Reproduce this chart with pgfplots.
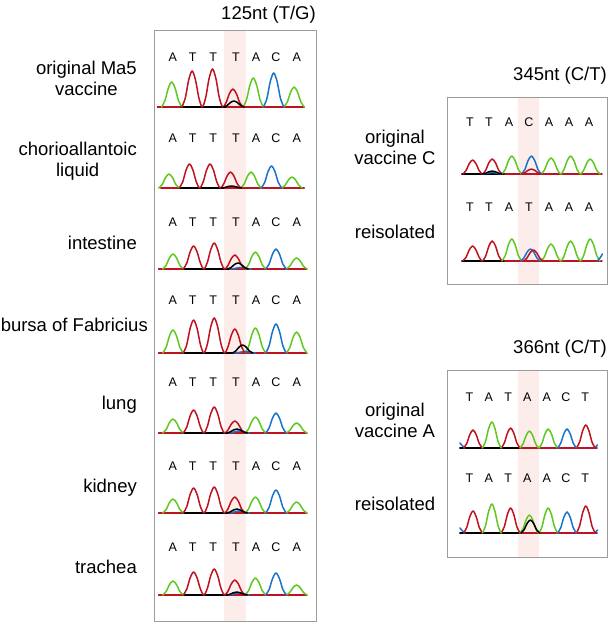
\documentclass[border=0pt]{standalone}
\usepackage{fontspec}
\setmainfont{Liberation Sans}
\usepackage{pgfplots}
\pgfplotsset{compat=1.18}
\definecolor{cA}{RGB}{95,200,30}
\definecolor{cT}{RGB}{190,18,32}
\definecolor{cC}{RGB}{25,115,200}
\definecolor{cG}{RGB}{0,0,0}
\definecolor{band}{RGB}{252,237,235}
\definecolor{boxc}{RGB}{155,155,155}
\pgfplotsset{chrom/.style={anchor=south west,y=1pt,xmin=0,xmax=8,ymin=0,ymax=40,hide axis,clip=false}}
\tikzset{tr/.style={line width=1.5pt,line join=round,line cap=round}}
\begin{document}
\begin{tikzpicture}[x=1pt,y=1pt]
\path[use as bounding box] (0,0) rectangle (609,622);
% highlight bands
\fill[band] (224,1) rectangle (246,592);
\fill[band] (518,338) rectangle (539,525);
\fill[band] (518,65) rectangle (539,252);
% boxes
\draw[boxc,line width=0.9pt] (154,1) rectangle (316,592);
\draw[boxc,line width=0.9pt] (447,338) rectangle (607,525);
\draw[boxc,line width=0.9pt] (447,65) rectangle (607,252);
% titles
\begin{scope}[every node/.style={inner sep=0pt,font=\fontsize{18.5}{21}\selectfont}]
\node[anchor=east] at (316,607) {125nt (T/G)};
\node[anchor=east] at (607,546) {345nt (C/T)};
\node[anchor=east] at (607,273) {366nt (C/T)};
% left labels
\node[anchor=east,align=center] at (137,543.5) {original Ma5\\vaccine};
\node[anchor=east,align=center] at (137,461) {chorioallantoic\\liquid};
\node[anchor=east] at (137,379) {intestine};
\node[anchor=east] at (148,297) {bursa of Fabricius};
\node[anchor=east] at (137,217) {lung};
\node[anchor=east] at (137,134) {kidney};
\node[anchor=east] at (137,55) {trachea};
% right labels
\node[align=center] at (395,474.5) {original\\vaccine C};
\node at (395,390) {reisolated};
\node[align=center] at (395,202) {original\\vaccine A};
\node at (395,118) {reisolated};
\end{scope}
% base letters
\begin{scope}[every node/.style={inner sep=0pt,font=\fontsize{12.5}{14}\selectfont}]
\foreach \yy in {565,484,400,322,240,156,75}{
 \foreach \xx/\ll in {172.7/A,192.7/T,213.3/T,236/T,256/A,276/C,296.7/A}{\node at (\xx,\yy) {\ll};}}
\foreach \xx/\ll in {470/T,489/T,509/A,529/C,549/A,569/A,589/A}{\node at (\xx,500) {\ll};}
\foreach \xx/\ll in {470/T,489/T,509/A,529/T,549/A,569/A,589/A}{\node at (\xx,415) {\ll};}
\foreach \yy in {225,144}{
 \foreach \xx/\ll in {469.5/T,488.8/A,508.1/T,527.4/A,546.7/A,566/C,585.3/T}{\node at (\xx,\yy) {\ll};}}
\end{scope}

% ---------- left row 1: original Ma5 vaccine
\begin{axis}[chrom,x=20.4pt,at={(151.3pt,515pt)}]
\addplot[cT,tr] coordinates {(0.3,0)(7.5,0)};
\addplot[cG,tr] coordinates {(1.45,0)(3.65,0)};
\addplot[cA,tr,smooth] coordinates {(0.5,0)(0.667,6.25)(0.833,18.75)(1,25)(1.167,18.75)(1.333,6.25)(1.5,0)};
\addplot[cA,tr,smooth] coordinates {(4.5,0)(4.667,7.25)(4.833,21.75)(5,29)(5.167,21.75)(5.333,7.25)(5.5,0)};
\addplot[cA,tr,smooth] coordinates {(6.5,0)(6.667,5)(6.833,15)(7,20)(7.167,15)(7.333,5)(7.5,0)};
\addplot[cC,tr,smooth] coordinates {(5.5,0)(5.667,8.5)(5.833,25.5)(6,34)(6.167,25.5)(6.333,8.5)(6.5,0)};
\addplot[cT,tr,smooth] coordinates {(1.5,0)(1.667,9)(1.833,27)(2,36)(2.167,27)(2.333,9)(2.5,0)(2.667,9.5)(2.833,28.5)(3,38)(3.167,28.5)(3.333,9.5)(3.5,0)(3.667,4.5)(3.833,13.5)(4,18)(4.167,13.5)(4.333,4.5)(4.5,0)};
\addplot[cG,tr,smooth] coordinates {(3.55,0)(3.717,1.5)(3.883,4.5)(4.05,6)(4.217,4.5)(4.383,1.5)(4.55,0)};
\end{axis}

% ---------- left row 2: chorioallantoic liquid
\begin{axis}[chrom,x=20.5pt,at={(148.5pt,434pt)}]
\addplot[cT,tr] coordinates {(0.6,0)(7.6,0)};
\addplot[cG,tr] coordinates {(1.45,0)(3.65,0)};
\addplot[cA,tr,smooth] coordinates {(0.5,0)(0.667,3.5)(0.833,10.5)(1,14)(1.167,10.5)(1.333,3.5)(1.5,0)};
\addplot[cA,tr,smooth] coordinates {(4.5,0)(4.667,4)(4.833,12)(5,16)(5.167,12)(5.333,4)(5.5,0)};
\addplot[cA,tr,smooth] coordinates {(6.5,0)(6.667,2.75)(6.833,8.25)(7,11)(7.167,8.25)(7.333,2.75)(7.5,0)};
\addplot[cC,tr,smooth] coordinates {(5.5,0)(5.667,5.5)(5.833,16.5)(6,22)(6.167,16.5)(6.333,5.5)(6.5,0)};
\addplot[cT,tr,smooth] coordinates {(1.5,0)(1.667,6)(1.833,18)(2,24)(2.167,18)(2.333,6)(2.5,0)(2.667,6)(2.833,18)(3,24)(3.167,18)(3.333,6)(3.5,0)(3.667,4)(3.833,12)(4,16)(4.167,12)(4.333,4)(4.5,0)};
\addplot[cG,tr,smooth] coordinates {(3.55,0)(3.717,0.5)(3.883,1.5)(4.05,2)(4.217,1.5)(4.383,0.5)(4.55,0)};
\end{axis}

% ---------- left row 3: intestine
\begin{axis}[chrom,x=20.6pt,at={(152.4pt,353pt)}]
\addplot[cT,tr] coordinates {(0.3,0)(7.5,0)};
\addplot[cG,tr] coordinates {(1.45,0)(3.7,0)};
\addplot[cA,tr,smooth] coordinates {(0.5,0)(0.667,3.75)(0.833,11.25)(1,15)(1.167,11.25)(1.333,3.75)(1.5,0)};
\addplot[cA,tr,smooth] coordinates {(4.5,0)(4.667,4.25)(4.833,12.75)(5,17)(5.167,12.75)(5.333,4.25)(5.5,0)};
\addplot[cA,tr,smooth] coordinates {(6.5,0)(6.667,2.75)(6.833,8.25)(7,11)(7.167,8.25)(7.333,2.75)(7.5,0)};
\addplot[cC,tr,smooth] coordinates {(5.5,0)(5.667,5)(5.833,15)(6,20)(6.167,15)(6.333,5)(6.5,0)};
\addplot[cC,tr,smooth] coordinates {(3.8,0)(3.967,0.375)(4.133,1.125)(4.3,1.5)(4.467,1.125)(4.633,0.375)(4.8,0)};
\addplot[cT,tr,smooth] coordinates {(1.5,0)(1.667,5.75)(1.833,17.25)(2,23)(2.167,17.25)(2.333,5.75)(2.5,0)(2.667,6.5)(2.833,19.5)(3,26)(3.167,19.5)(3.333,6.5)(3.5,0)(3.667,3.5)(3.833,10.5)(4,14)(4.167,10.5)(4.333,3.5)(4.5,0)};
\addplot[cG,tr,smooth] coordinates {(3.65,0)(3.817,1.5)(3.983,4.5)(4.15,6)(4.317,4.5)(4.483,1.5)(4.65,0)};
\end{axis}

% ---------- left row 4: bursa of Fabricius
\begin{axis}[chrom,x=20.6pt,at={(152.4pt,269pt)}]
\addplot[cT,tr] coordinates {(0.3,0)(7.5,0)};
\addplot[cG,tr] coordinates {(1.45,0)(3.9,0)};
\addplot[cA,tr,smooth] coordinates {(0.5,0)(0.667,5.75)(0.833,17.25)(1,23)(1.167,17.25)(1.333,5.75)(1.5,0)};
\addplot[cA,tr,smooth] coordinates {(4.5,0)(4.667,6.25)(4.833,18.75)(5,25)(5.167,18.75)(5.333,6.25)(5.5,0)};
\addplot[cA,tr,smooth] coordinates {(6.5,0)(6.667,5.25)(6.833,15.75)(7,21)(7.167,15.75)(7.333,5.25)(7.5,0)};
\addplot[cC,tr,smooth] coordinates {(5.5,0)(5.667,7.25)(5.833,21.75)(6,29)(6.167,21.75)(6.333,7.25)(6.5,0)};
\addplot[cC,tr,smooth] coordinates {(4.0,0)(4.167,0.375)(4.333,1.125)(4.5,1.5)(4.667,1.125)(4.833,0.375)(5.0,0)};
\addplot[cT,tr,smooth] coordinates {(1.5,0)(1.667,8.25)(1.833,24.75)(2,33)(2.167,24.75)(2.333,8.25)(2.5,0)(2.667,8.75)(2.833,26.25)(3,35)(3.167,26.25)(3.333,8.75)(3.5,0)(3.667,6)(3.833,18)(4,24)(4.167,18)(4.333,6)(4.5,0)};
\addplot[cG,tr,smooth] coordinates {(3.88,0)(4.047,2)(4.213,6)(4.38,8)(4.547,6)(4.713,2)(4.88,0)};
\end{axis}

% ---------- left row 5: lung
\begin{axis}[chrom,x=20.6pt,at={(152.4pt,189pt)}]
\addplot[cT,tr] coordinates {(0.3,0)(7.5,0)};
\addplot[cG,tr] coordinates {(1.45,0)(3.75,0)};
\addplot[cA,tr,smooth] coordinates {(0.5,0)(0.667,3.5)(0.833,10.5)(1,14)(1.167,10.5)(1.333,3.5)(1.5,0)};
\addplot[cA,tr,smooth] coordinates {(4.5,0)(4.667,4)(4.833,12)(5,16)(5.167,12)(5.333,4)(5.5,0)};
\addplot[cA,tr,smooth] coordinates {(6.5,0)(6.667,2.5)(6.833,7.5)(7,10)(7.167,7.5)(7.333,2.5)(7.5,0)};
\addplot[cC,tr,smooth] coordinates {(5.5,0)(5.667,5)(5.833,15)(6,20)(6.167,15)(6.333,5)(6.5,0)};
\addplot[cC,tr,smooth] coordinates {(3.7,0)(3.867,0.5)(4.033,1.5)(4.2,2)(4.367,1.5)(4.533,0.5)(4.7,0)};
\addplot[cT,tr,smooth] coordinates {(1.5,0)(1.667,5.75)(1.833,17.25)(2,23)(2.167,17.25)(2.333,5.75)(2.5,0)(2.667,6.5)(2.833,19.5)(3,26)(3.167,19.5)(3.333,6.5)(3.5,0)(3.667,3)(3.833,9)(4,12)(4.167,9)(4.333,3)(4.5,0)};
\addplot[cG,tr,smooth] coordinates {(3.6,0)(3.767,1)(3.933,3)(4.1,4)(4.267,3)(4.433,1)(4.6,0)};
\end{axis}

% ---------- left row 6: kidney
\begin{axis}[chrom,x=20.6pt,at={(152.4pt,109pt)}]
\addplot[cT,tr] coordinates {(0.3,0)(7.5,0)};
\addplot[cG,tr] coordinates {(1.45,0)(3.75,0)};
\addplot[cA,tr,smooth] coordinates {(0.5,0)(0.667,3.5)(0.833,10.5)(1,14)(1.167,10.5)(1.333,3.5)(1.5,0)};
\addplot[cA,tr,smooth] coordinates {(4.5,0)(4.667,4)(4.833,12)(5,16)(5.167,12)(5.333,4)(5.5,0)};
\addplot[cA,tr,smooth] coordinates {(6.5,0)(6.667,2.75)(6.833,8.25)(7,11)(7.167,8.25)(7.333,2.75)(7.5,0)};
\addplot[cC,tr,smooth] coordinates {(5.5,0)(5.667,5.75)(5.833,17.25)(6,23)(6.167,17.25)(6.333,5.75)(6.5,0)};
\addplot[cC,tr,smooth] coordinates {(3.7,0)(3.867,0.5)(4.033,1.5)(4.2,2)(4.367,1.5)(4.533,0.5)(4.7,0)};
\addplot[cT,tr,smooth] coordinates {(1.5,0)(1.667,6.25)(1.833,18.75)(2,25)(2.167,18.75)(2.333,6.25)(2.5,0)(2.667,6.5)(2.833,19.5)(3,26)(3.167,19.5)(3.333,6.5)(3.5,0)(3.667,4)(3.833,12)(4,16)(4.167,12)(4.333,4)(4.5,0)};
\addplot[cG,tr,smooth] coordinates {(3.6,0)(3.767,1)(3.933,3)(4.1,4)(4.267,3)(4.433,1)(4.6,0)};
\end{axis}

% ---------- left row 7: trachea
\begin{axis}[chrom,x=20.6pt,at={(152.4pt,27pt)}]
\addplot[cT,tr] coordinates {(0.3,0)(7.5,0)};
\addplot[cG,tr] coordinates {(1.45,0)(3.75,0)};
\addplot[cA,tr,smooth] coordinates {(0.5,0)(0.667,3.5)(0.833,10.5)(1,14)(1.167,10.5)(1.333,3.5)(1.5,0)};
\addplot[cA,tr,smooth] coordinates {(4.5,0)(4.667,4.25)(4.833,12.75)(5,17)(5.167,12.75)(5.333,4.25)(5.5,0)};
\addplot[cA,tr,smooth] coordinates {(6.5,0)(6.667,2.5)(6.833,7.5)(7,10)(7.167,7.5)(7.333,2.5)(7.5,0)};
\addplot[cC,tr,smooth] coordinates {(5.5,0)(5.667,5.5)(5.833,16.5)(6,22)(6.167,16.5)(6.333,5.5)(6.5,0)};
\addplot[cC,tr,smooth] coordinates {(3.7,0)(3.867,0.5)(4.033,1.5)(4.2,2)(4.367,1.5)(4.533,0.5)(4.7,0)};
\addplot[cT,tr,smooth] coordinates {(1.5,0)(1.667,5.75)(1.833,17.25)(2,23)(2.167,17.25)(2.333,5.75)(2.5,0)(2.667,6.5)(2.833,19.5)(3,26)(3.167,19.5)(3.333,6.5)(3.5,0)(3.667,3.75)(3.833,11.25)(4,15)(4.167,11.25)(4.333,3.75)(4.5,0)};
\addplot[cG,tr,smooth] coordinates {(3.6,0)(3.767,0.75)(3.933,2.25)(4.1,3)(4.267,2.25)(4.433,0.75)(4.6,0)};
\end{axis}

% ---------- right panel 1, row 1: original vaccine C
\begin{axis}[chrom,x=19.6pt,at={(453pt,448pt)}]
\addplot[cT,tr] coordinates {(0.46,0)(7.6,0)};
\addplot[cG,tr] coordinates {(0.46,0)(2.6,0)};
\addplot[cT,tr,smooth] coordinates {(0.5,0)(0.667,3.5)(0.833,10.5)(1,14)(1.167,10.5)(1.333,3.5)(1.5,0)(1.667,3.75)(1.833,11.25)(2,15)(2.167,11.25)(2.333,3.75)(2.5,0)};
\addplot[cA,tr,smooth] coordinates {(2.5,0)(2.667,4.5)(2.833,13.5)(3,18)(3.167,13.5)(3.333,4.5)(3.5,0)};
\addplot[cA,tr,smooth] coordinates {(4.5,0)(4.667,4)(4.833,12)(5,16)(5.167,12)(5.333,4)(5.5,0)(5.667,4.5)(5.833,13.5)(6,18)(6.167,13.5)(6.333,4.5)(6.5,0)(6.667,3.75)(6.833,11.25)(7,15)(7.167,11.25)(7.333,3.75)(7.5,0)};
\addplot[cC,tr,smooth] coordinates {(3.5,0)(3.667,4.5)(3.833,13.5)(4,18)(4.167,13.5)(4.333,4.5)(4.5,0)};
\addplot[cC,tr,smooth] coordinates {(1.5,0)(1.667,0.375)(1.833,1.125)(2,1.5)(2.167,1.125)(2.333,0.375)(2.5,0)};
\addplot[cG,tr,smooth] coordinates {(1.5,0)(1.667,0.75)(1.833,2.25)(2,3)(2.167,2.25)(2.333,0.75)(2.5,0)};
\addplot[cT,tr,smooth] coordinates {(3.5,0)(3.667,1.25)(3.833,3.75)(4,5)(4.167,3.75)(4.333,1.25)(4.5,0)};
\end{axis}

% ---------- right panel 1, row 2: reisolated
\begin{axis}[chrom,x=19.6pt,at={(453pt,361pt)}]
\addplot[cT,tr] coordinates {(0.46,0)(7.6,0)};
\addplot[cG,tr] coordinates {(0.46,0)(2.6,0)};
\addplot[cT,tr,smooth] coordinates {(0.5,0)(0.667,3.75)(0.833,11.25)(1,15)(1.167,11.25)(1.333,3.75)(1.5,0)(1.667,5)(1.833,15)(2,20)(2.167,15)(2.333,5)(2.5,0)};
\addplot[cA,tr,smooth] coordinates {(2.5,0)(2.667,5.5)(2.833,16.5)(3,22)(3.167,16.5)(3.333,5.5)(3.5,0)};
\addplot[cA,tr,smooth] coordinates {(4.5,0)(4.667,4.25)(4.833,12.75)(5,17)(5.167,12.75)(5.333,4.25)(5.5,0)(5.667,5)(5.833,15)(6,20)(6.167,15)(6.333,5)(6.5,0)(6.667,5.5)(6.833,16.5)(7,22)(7.167,16.5)(7.333,5.5)(7.5,0)};
\addplot[cC,tr,smooth] coordinates {(3.45,0)(3.617,3)(3.783,9)(3.95,12)(4.117,9)(4.283,3)(4.45,0)};
\addplot[cC,tr,smooth] coordinates {(7.35,0)(7.5,3)(7.62,7)};
\addplot[cT,tr,smooth] coordinates {(3.6,0)(3.767,2.75)(3.933,8.25)(4.1,11)(4.267,8.25)(4.433,2.75)(4.6,0)};
\end{axis}

% ---------- right panel 2, row 1: original vaccine A
\begin{axis}[chrom,x=18.8pt,at={(454.2pt,174pt)}]
\addplot[cT,tr] coordinates {(3.5,0)(7.6,0)};
\addplot[cG,tr] coordinates {(0.3,0)(3.5,0)};
\addplot[cC,tr,smooth] coordinates {(0.3,5)(0.42,2.5)(0.57,0)};
\addplot[cC,tr,smooth] coordinates {(7.45,0)(7.55,1.5)(7.62,3)};
\addplot[cT,tr,smooth] coordinates {(0.5,0)(0.667,4.5)(0.833,13.5)(1,18)(1.167,13.5)(1.333,4.5)(1.5,0)};
\addplot[cT,tr,smooth] coordinates {(2.5,0)(2.667,5)(2.833,15)(3,20)(3.167,15)(3.333,5)(3.5,0)};
\addplot[cT,tr,smooth] coordinates {(6.5,0)(6.667,5.75)(6.833,17.25)(7,23)(7.167,17.25)(7.333,5.75)(7.5,0)};
\addplot[cA,tr,smooth] coordinates {(1.5,0)(1.667,6.5)(1.833,19.5)(2,26)(2.167,19.5)(2.333,6.5)(2.5,0)};
\addplot[cA,tr,smooth] coordinates {(3.5,0)(3.667,4.25)(3.833,12.75)(4,17)(4.167,12.75)(4.333,4.25)(4.5,0)(4.667,4.75)(4.833,14.25)(5,19)(5.167,14.25)(5.333,4.75)(5.5,0)};
\addplot[cC,tr,smooth] coordinates {(5.5,0)(5.667,4.75)(5.833,14.25)(6,19)(6.167,14.25)(6.333,4.75)(6.5,0)};
\end{axis}

% ---------- right panel 2, row 2: reisolated
\begin{axis}[chrom,x=18.8pt,at={(454.2pt,89pt)}]
\addplot[cT,tr] coordinates {(3.5,0)(7.6,0)};
\addplot[cG,tr] coordinates {(0.3,0)(3.5,0)};
\addplot[cC,tr,smooth] coordinates {(0.3,5)(0.42,2.5)(0.57,0)};
\addplot[cC,tr,smooth] coordinates {(7.45,0)(7.55,1.5)(7.62,3)};
\addplot[cT,tr,smooth] coordinates {(0.5,0)(0.667,5.5)(0.833,16.5)(1,22)(1.167,16.5)(1.333,5.5)(1.5,0)};
\addplot[cT,tr,smooth] coordinates {(2.5,0)(2.667,6.25)(2.833,18.75)(3,25)(3.167,18.75)(3.333,6.25)(3.5,0)};
\addplot[cT,tr,smooth] coordinates {(6.5,0)(6.667,6.75)(6.833,20.25)(7,27)(7.167,20.25)(7.333,6.75)(7.5,0)};
\addplot[cA,tr,smooth] coordinates {(1.5,0)(1.667,7.25)(1.833,21.75)(2,29)(2.167,21.75)(2.333,7.25)(2.5,0)};
\addplot[cA,tr,smooth] coordinates {(3.5,0)(3.667,4.5)(3.833,13.5)(4,18)(4.167,13.5)(4.333,4.5)(4.5,0)(4.667,6.25)(4.833,18.75)(5,25)(5.167,18.75)(5.333,6.25)(5.5,0)};
\addplot[cC,tr,smooth] coordinates {(5.5,0)(5.667,5.25)(5.833,15.75)(6,21)(6.167,15.75)(6.333,5.25)(6.5,0)};
\addplot[cG,tr,smooth] coordinates {(3.55,0)(3.717,3.25)(3.883,9.75)(4.05,13)(4.217,9.75)(4.383,3.25)(4.55,0)};
\end{axis}
\end{tikzpicture}
\end{document}
